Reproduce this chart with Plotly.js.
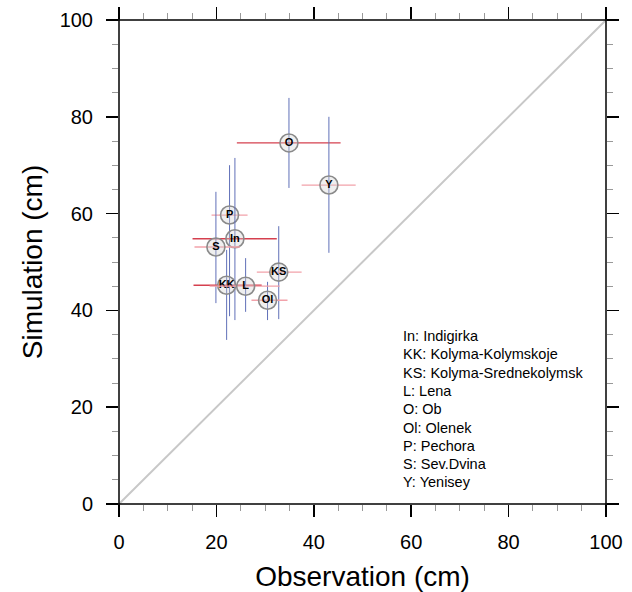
<!DOCTYPE html>
<html>
<head>
<meta charset="utf-8">
<script src="https://cdn.plot.ly/plotly-3.0.1.min.js"></script>
<style>html,body{margin:0;padding:0;background:#fff;}#chart{width:632px;height:592px;}</style>
</head>
<body>
<div id="chart"></div>
<script>
// Station abbreviations and names
var codes = ["O", "Y", "P", "In", "S", "KS", "Ol", "KK", "L"];
var legendCodes = ["In", "KK", "KS", "L", "O", "Ol", "P", "S", "Y"];
var legendNames = ["Indigirka", "Kolyma-Kolymskoje", "Kolyma-Srednekolymsk", "Lena", "Ob", "Olenek", "Pechora", "Sev.Dvina", "Yenisey"];
// Observation (cm): mean, low, high
var obs     = [34.9, 43.1, 22.7, 23.8, 19.9, 32.8, 30.5, 22.1, 26.0];
var obsLow  = [24.2, 37.5, 19.0, 15.1, 15.5, 28.3, 27.2, 15.3, 18.6];
var obsHigh = [45.5, 48.6, 26.4, 32.4, 24.8, 37.5, 34.6, 29.3, 33.0];
// Simulation (cm): mean, low, high
var sim     = [74.6, 65.9, 59.7, 54.8, 53.1, 47.9, 42.1, 45.2, 45.0];
var simLow  = [65.3, 51.9, 38.8, 38.0, 41.5, 38.2, 38.0, 33.9, 39.7];
var simHigh = [83.9, 80.0, 70.0, 71.5, 64.5, 57.4, 45.9, 52.5, 50.8];
// Horizontal bar shade: 1 = red, 0 = pink
var hbarStrong = [1, 0, 0, 1, 0, 0, 0, 1, 0];
// 1:1 line
var oneToOne = [0, 100];

var traces = [];
traces.push({
  x: oneToOne, y: oneToOne, mode: "lines", type: "scatter",
  line: {color: "#c8c8c8", width: 2}, hoverinfo: "skip", showlegend: false
});
for (var i = 0; i < codes.length; i++) {
  traces.push({
    type: "scatter", mode: "markers+text",
    x: [obs[i]], y: [sim[i]], text: [codes[i]],
    textposition: "middle center",
    textfont: {family: "Liberation Sans, Arial, sans-serif", size: 11, color: "#000", weight: "bold"},
    marker: {symbol: "circle", size: 18, color: "rgba(210,210,210,0.35)", line: {color: "#8a8a8a", width: 1.6}},
    error_x: {type: "data", symmetric: false, array: [obsHigh[i] - obs[i]], arrayminus: [obs[i] - obsLow[i]],
              color: hbarStrong[i] ? "#d5404f" : "#f2a2aa", thickness: 1.3, width: 0},
    error_y: {type: "data", symmetric: false, array: [simHigh[i] - sim[i]], arrayminus: [sim[i] - simLow[i]],
              color: "#6070b8", thickness: 1, width: 0},
    showlegend: false, name: codes[i]
  });
}

var font = "Liberation Sans, Arial, Helvetica, sans-serif";
var annotations = [];
for (var j = 0; j < legendCodes.length; j++) {
  var ypx = 336 + j * 18.3;
  annotations.push({
    xref: "paper", yref: "paper", x: (401 - 119.4) / 486.6, y: 1 - (ypx - 20) / 484,
    xanchor: "left", yanchor: "middle", showarrow: false,
    text: legendCodes[j] + ": " + legendNames[j],
    font: {family: font, size: 14.5, color: "#000"}
  });
}

var ext = 0.026;
var shapes = [
  {type: "line", xref: "paper", yref: "paper", x0: -ext, x1: 1 + ext, y0: 0, y1: 0, line: {color: "#000", width: 1.5}},
  {type: "line", xref: "paper", yref: "paper", x0: -ext, x1: 1 + ext, y0: 1, y1: 1, line: {color: "#000", width: 1.5}},
  {type: "line", xref: "paper", yref: "paper", x0: 0, x1: 0, y0: -ext, y1: 1 + ext, line: {color: "#000", width: 1.5}},
  {type: "line", xref: "paper", yref: "paper", x0: 1, x1: 1, y0: -ext, y1: 1 + ext, line: {color: "#000", width: 1.5}}
];

function axis(title, standoff, labelStandoff) {
  return {
    range: [0, 100], dtick: 20, tick0: 0, showgrid: false, zeroline: false, showline: false,
    ticks: "outside", ticklen: 12, tickwidth: 1.5, tickcolor: "#000", mirror: "ticks",
    minor: {dtick: 5, ticks: "outside", ticklen: 6, tickwidth: 1, tickcolor: "#999"},
    tickfont: {family: font, size: 20, color: "#000"},
    ticklabelstandoff: labelStandoff,
    title: {text: title, font: {family: font, size: 28, color: "#000"}, standoff: standoff},
    fixedrange: true
  };
}

var layout = {
  width: 632, height: 592,
  margin: {l: 119, r: 26, t: 20, b: 88, pad: 0},
  paper_bgcolor: "#fff", plot_bgcolor: "#fff",
  xaxis: axis("Observation (cm)", 15, 8),
  yaxis: axis("Simulation (cm)", 8, 9),
  shapes: shapes, annotations: annotations, showlegend: false
};

Plotly.newPlot("chart", traces, layout, {staticPlot: true, displayModeBar: false});
</script>
</body>
</html>
